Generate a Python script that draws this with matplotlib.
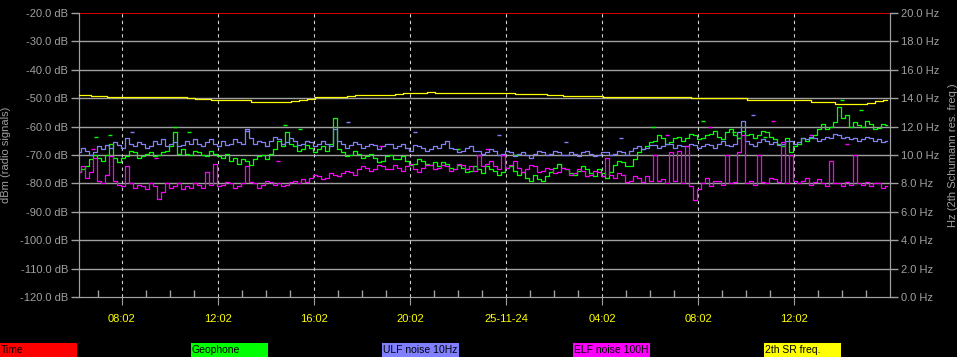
import matplotlib
matplotlib.use('Agg')
import matplotlib.pyplot as plt
from matplotlib.patches import Rectangle
from matplotlib.transforms import Bbox, TransformedBbox
import numpy as np

plt.rcParams['font.family'] = ['Liberation Sans', 'DejaVu Sans']

# radio signals, one sample every 10 min (hours since 06:15, 24-11-24)
step_h = 1 / 6
ulf = [-69, -67.5, -68.5, -70, -69, -67, -68, -66.5, -67.5, -65.5,
       -66.5, -67.5, -64, -66, -67, -65.5, -66, -67.5, -67, -65,
       -66, -64.5, -67, -66, -65.5, -67, -66.5, -65, -66, -64.5,
       -66, -67, -65.5, -64.5, -66, -67, -65, -66.5, -66, -64.5,
       -65.5, -66, -61, -64, -66, -65, -65.5, -67, -65, -63.5,
       -64.5, -66, -65.5, -64, -65, -66.5, -66, -65, -65.5, -67,
       -66, -65, -66, -67, -61, -65, -66, -67.5, -66.5, -65.5,
       -66, -67.5, -67, -66, -66.5, -68, -67, -66, -66, -67.5,
       -67, -66, -67.5, -68.5, -66.5, -67, -67.5, -68.5, -68, -67,
       -67.5, -66, -65, -67.5, -68, -69, -68.5, -67.5, -67, -68.5,
       -68.5, -69.5, -69, -68, -68.5, -70, -69.5, -68.5, -69, -70.5,
       -69.5, -69, -70, -71, -69.5, -68.5, -69, -70, -69.5, -68.5,
       -69, -70, -70, -69, -69.5, -70.5, -69, -68.5, -69.5, -70.5,
       -70, -69, -69, -70, -69.5, -68.5, -69, -70, -68.5, -67.5,
       -67, -68, -67.5, -66.5, -66.5, -67.5, -67, -66, -66, -67.5,
       -66.5, -67, -67, -66, -66.5, -67.5, -67, -66, -66.5, -67.5,
       -66, -65, -66.5, -67, -66, -62, -58, -65, -66, -67,
       -65.5, -64.5, -65, -66, -65.5, -66.5, -66, -65, -65, -66,
       -65.5, -64, -64.5, -63.5, -64, -65, -64.5, -63.5, -64, -62.5,
       -63, -64, -63.5, -64.5, -64, -65, -64.5, -63.5, -64, -65,
       -64.5, -65.5, -65]
geophone = [-76, -75, -74, -71.5, -70, -71, -72, -70, -66, -71,
            -72.5, -71, -70.5, -68.5, -69, -71, -70.5, -69.5, -69, -70.5,
            -70, -69, -68.5, -67, -62, -69.5, -68, -69.5, -70, -68.5,
            -69, -70, -70.5, -68.5, -69.5, -70.5, -71, -69.5, -72, -71,
            -73, -71.5, -72, -73.5, -71.5, -70.5, -70, -71.5, -69.5, -68,
            -65, -67, -62, -66, -67, -68.5, -68, -66.5, -67.5, -69,
            -68, -67, -68.5, -66, -57, -68, -69, -70.5, -70, -68.5,
            -69.5, -71, -70.5, -69.5, -71, -72.5, -72, -70.5, -70, -71.5,
            -71.5, -70.5, -72, -73.5, -73, -71.5, -72, -73, -73.5, -72.5,
            -74, -72.5, -73, -74.5, -75, -73.5, -74.5, -76, -75.5, -74,
            -75, -76.5, -74, -75, -75.5, -77, -76, -74.5, -74, -75.5,
            -77, -76, -78, -79, -77, -78.5, -79, -77.5, -76, -74.5,
            -73, -74.5, -75, -76.5, -77, -75.5, -74, -75, -76.5, -77.5,
            -75, -76.5, -78, -76, -73.5, -72, -72.5, -74, -74, -71.5,
            -69, -68, -67, -65.5, -65, -63, -64, -66, -65.5, -64,
            -63.5, -65, -64, -62.5, -63, -64.5, -64, -63, -62.5, -61.5,
            -63.5, -64.5, -62, -61, -63, -64, -61.5, -63, -62.5, -64,
            -63, -61.5, -62, -63.5, -64.5, -66, -67, -64, -69, -67,
            -66, -64, -65, -64, -63, -61, -59, -61, -60, -58.5,
            -53, -57, -56, -60, -58.5, -59.5, -60, -58, -59, -61,
            -60.5, -59, -59.5]
elf = [-76, -74, -78, -76, -71, -79, -80, -77, -70.5, -79,
       -80.5, -81, -74, -80, -81.5, -80.5, -81, -82, -80, -81,
       -85.5, -83, -80, -81.5, -81, -80, -82, -81, -81.5, -80,
       -80.5, -81.5, -76, -80.5, -73, -81, -80.5, -79.5, -80, -81.5,
       -81, -80, -74, -79.5, -80, -81.5, -80.5, -79, -79.5, -80.5,
       -80, -81, -80.5, -79.5, -79, -80, -78.5, -79.5, -78, -77,
       -77.5, -78.5, -78, -76.5, -77, -77.5, -76.5, -75.5, -76, -77,
       -75, -74, -74.5, -75.5, -75, -73.5, -74, -75, -75, -73.5,
       -74.5, -75.5, -74, -73, -75, -76, -74.5, -73.5, -73.5, -75,
       -74.5, -73.5, -74, -75.5, -75, -73, -73.5, -75, -74, -75.5,
       -70, -74, -73, -72, -74, -75, -70, -74.5, -73.5, -72,
       -74.5, -76, -75, -73.5, -74, -76, -75.5, -74.5, -75, -76.5,
       -76, -74.5, -75, -77, -76.5, -75, -75.5, -77.5, -77, -75.5,
       -76, -77.5, -71, -77, -78, -76.5, -77, -79.5, -79, -77.5,
       -78, -79.5, -77.5, -79, -70, -79, -78.5, -80, -69, -79,
       -68.5, -80, -67, -81, -86, -82, -80, -78, -81, -79,
       -79, -80.5, -70, -80, -79.5, -69, -63, -80, -79, -80.5,
       -70, -79.5, -80, -78, -78.5, -79.5, -65.5, -80, -70, -79,
       -80, -79, -78, -80.5, -79.5, -78.5, -80, -81, -72, -80,
       -80, -81, -79.5, -80.5, -70, -80, -80.5, -79.5, -81, -80,
       -80, -81.5, -81]
# 2nd Schumann resonance, one sample every 20 min
sr_step_h = 1 / 3
sr_freq = [14.2, 14.2, 14.15, 14.15, 14.1, 14.1, 14.05, 14.05, 14.05, 14.05,
           14.05, 14.05, 14.05, 14.05, 14.0, 13.95, 13.95, 13.9, 13.9, 13.9,
           13.85, 13.85, 13.75, 13.75, 13.75, 13.75, 13.75, 13.8, 13.9, 13.95,
           14.05, 14.05, 14.05, 14.1, 14.15, 14.2, 14.25, 14.25, 14.25, 14.25,
           14.3, 14.4, 14.4, 14.4, 14.45, 14.4, 14.4, 14.4, 14.4, 14.4,
           14.35, 14.35, 14.35, 14.35, 14.35, 14.3, 14.3, 14.3, 14.3, 14.25,
           14.2, 14.15, 14.15, 14.15, 14.15, 14.15, 14.1, 14.05, 14.05, 14.05,
           14.05, 14.05, 14.05, 14.05, 14.05, 14.05, 14.05, 14.0, 14.0, 14.0,
           14.0, 14.0, 14.0, 14.0, 13.9, 13.9, 13.9, 13.9, 13.9, 13.9,
           13.9, 13.9, 13.75, 13.75, 13.75, 13.6, 13.6, 13.6, 13.6, 13.65,
           13.8, 13.9]
time_level = -20

# short max-hold dashes seen above the traces (hours, dB)
geo_peak_t = [0.7, 1.3, 4.0, 4.6, 8.6, 9.2, 15.8, 18.2, 23.9, 26.0, 27.3, 28.6, 31.8, 32.6]
geo_peak_v = [-63.5, -63, -60, -62, -59.5, -61, -68, -70, -60, -58, -62, -63.5, -50.5, -54]
ulf_peak_t = [2.2, 7.0, 11.2, 14.0, 17.5, 20.3, 22.6, 28.1]
ulf_peak_v = [-62, -61.5, -58.5, -62, -63, -65.5, -64, -56]
elf_peak_t = [0.6, 3.2, 8.3, 12.6, 17.0, 24.5, 26.3, 28.9, 30.5, 32.0]
elf_peak_v = [-68, -71, -72, -67, -68, -63, -60, -58, -63, -66]

x_end = 811 / 24
first_tick = 43 / 24
tick_labels = ['08:02', '12:02', '16:02', '20:02', '25-11-24', '04:02', '08:02', '12:02']

legend_names = ['Time', 'Geophone', 'ULF noise 10Hz', 'ELF noise 100H', '2th SR freq.']
legend_colors = ['#ff0000', '#00ff00', '#8080ff', '#ff00ff', '#ffff00']

t = np.arange(len(ulf)) * step_h
t_sr = np.arange(len(sr_freq)) * sr_step_h

gray = '#a0a0a0'
fig = plt.figure(figsize=(9.57, 3.57), dpi=100, facecolor='black')
ax = fig.add_axes([79 / 957, 60 / 357, 811 / 957, 284 / 357])
ax.set_facecolor('black')
ax2 = ax.twinx()

ax.set_xlim(0, x_end)
ax.set_ylim(-120, -20)
ax2.set_ylim(0, 20)

ax.set_yticks(np.arange(-120, -19, 10))
ax.set_yticklabels(['%.1f dB' % v for v in np.arange(-120, -19, 10)])
ax2.set_yticks(np.arange(0, 21, 2))
ax2.set_yticklabels(['%.1f Hz' % v for v in np.arange(0, 21, 2)])

for v in np.arange(-110, -20, 10):
    ax.axhline(v, color=gray, lw=1, zorder=1)

major = first_tick + 4 * np.arange(len(tick_labels))
ax.set_xticks(major)
ax.set_xticklabels(tick_labels)
ax.set_xticks(np.arange(first_tick - 1, x_end, 1), minor=True)
for m in major:
    ax.axvline(m, color='#d0d0d0', lw=0.8, ls=(0, (3, 3)), zorder=1)

ax.plot(t, geophone, color=legend_colors[1], lw=0.9, drawstyle='steps-mid', zorder=3)
ax.plot(t, ulf, color=legend_colors[2], lw=0.9, drawstyle='steps-mid', zorder=4)
ax.plot(t, elf, color=legend_colors[3], lw=0.9, drawstyle='steps-mid', zorder=5)
ax2.plot(t_sr, sr_freq, color=legend_colors[4], lw=0.9, drawstyle='steps-mid', zorder=6)
ax.axhline(time_level, color=legend_colors[0], lw=1.2, zorder=6)

ax.plot(geo_peak_t, geo_peak_v, ls='none', marker='_', ms=3, mew=1, color=legend_colors[1], zorder=3)
ax.plot(ulf_peak_t, ulf_peak_v, ls='none', marker='_', ms=3, mew=1, color=legend_colors[2], zorder=4)
ax.plot(elf_peak_t, elf_peak_v, ls='none', marker='_', ms=3, mew=1, color=legend_colors[3], zorder=5)

for a in (ax, ax2):
    for s in a.spines.values():
        s.set_color(gray)
    a.spines['top'].set_visible(False)
ax.tick_params(axis='y', colors=gray, labelsize=8, length=6, width=1, pad=2)
ax2.tick_params(axis='y', colors=gray, labelsize=8, length=6, width=1, pad=2)
ax.tick_params(axis='x', which='major', colors=gray, labelcolor='#ffff00', labelsize=8,
               length=6, width=0.8, pad=6)
ax.tick_params(axis='x', which='minor', colors=gray, direction='in', length=5, width=1)

ax.set_ylabel('dBm (radio signals)', color=gray, fontsize=8, labelpad=6)
ax2.set_ylabel('Hz (2th Schumann res. freq.)', color=gray, fontsize=8, labelpad=6)

for i, (name, col) in enumerate(zip(legend_names, legend_colors)):
    x0 = i * 191 / 957
    w, h = 77 / 957, 14 / 357
    fig.patches.append(Rectangle((x0, 0), w, h, transform=fig.transFigure,
                                 facecolor=col, edgecolor='none'))
    txt = fig.text(x0 + 1 / 957, 7 / 357, name, color='black', fontsize=7.5,
                   va='center', ha='left')
    txt.set_clip_box(TransformedBbox(Bbox([[x0, 0], [x0 + w, h]]), fig.transFigure))
    txt.set_clip_on(True)

fig.savefig('out.png', dpi=100, facecolor='black')
